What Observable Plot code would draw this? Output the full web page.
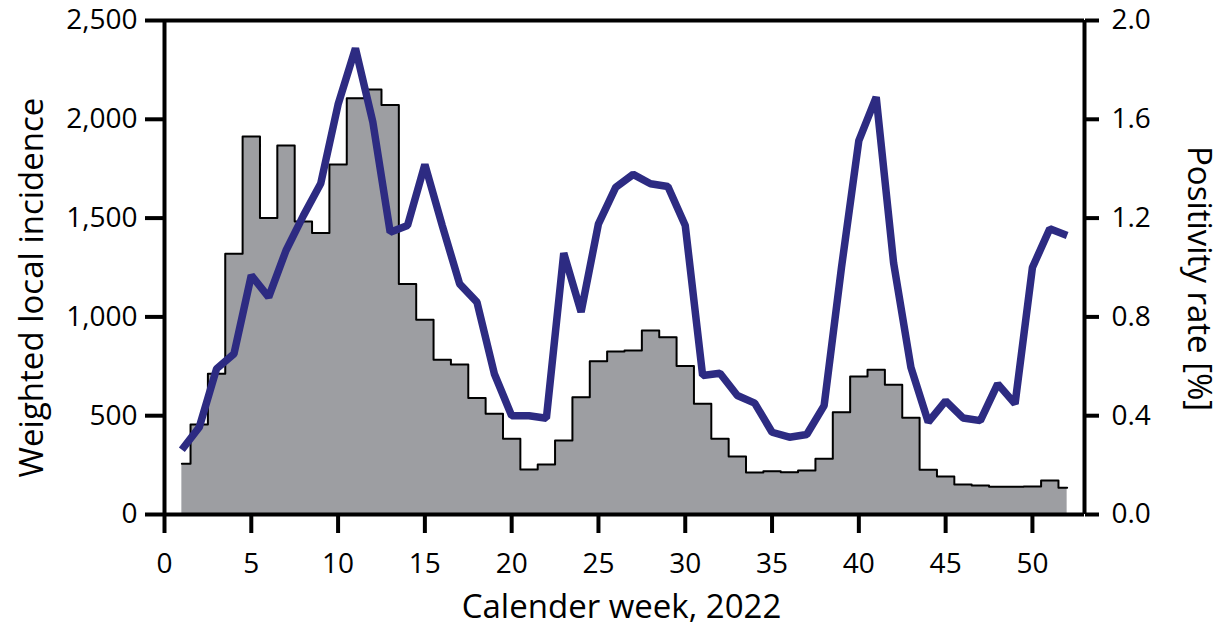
<!DOCTYPE html>
<html>
<head>
<meta charset="utf-8">
<script src="https://cdn.jsdelivr.net/npm/d3@7"></script>
<script src="https://cdn.jsdelivr.net/npm/@observablehq/plot@0.6"></script>
<style>
  html, body { margin: 0; padding: 0; background: #fff; }
  #chart svg { display: block; }
</style>
</head>
<body>
<div id="chart"></div>
<script>
const weeks = [1,2,3,4,5,6,7,8,9,10,11,12,13,14,15,16,17,18,19,20,21,22,23,24,25,26,
  27,28,29,30,31,32,33,34,35,36,37,38,39,40,41,42,43,44,45,46,47,48,49,50,51,52];
const incidence = [257,455,712,1319,1913,1500,1867,1483,1425,1771,2107,2151,2073,1167,985,783,
  759,589,510,383,228,253,374,594,776,825,830,931,897,751,560,383,294,213,219,214,223,282,518,
  698,732,656,489,226,192,152,147,140,140,142,172,135];
const positivity = [0.262,0.353,0.59,0.65,0.968,0.88,1.069,1.21,1.34,1.66,1.887,1.59,1.143,1.17,
  1.417,1.17,0.934,0.86,0.57,0.40,0.40,0.39,1.058,0.82,1.177,1.325,1.377,1.339,1.328,1.17,0.563,
  0.572,0.482,0.451,0.333,0.313,0.324,0.441,1.0,1.514,1.69,1.02,0.596,0.374,0.46,0.391,0.38,
  0.529,0.448,1.0,1.157,1.13];
const leftTicks = [0,500,1000,1500,2000,2500];
const rightTicks = [0.0,0.4,0.8,1.2,1.6,2.0];
const xTicks = [0,5,10,15,20,25,30,35,40,45,50];
const ratio = 2500 / 2.0;

const incData = weeks.map((w, i) => ({week: w, value: incidence[i]}));
const posData = weeks.map((w, i) => ({week: w, value: positivity[i] * ratio}));

const FS = 28;
const TS = 33;
const chart = Plot.plot({
  width: 1223,
  height: 629,
  marginLeft: 164,
  marginRight: 139,
  marginTop: 20,
  marginBottom: 115,
  style: {fontFamily: "'Open Sans', sans-serif", fontSize: FS + "px", color: "#000", background: "#fff"},
  x: {domain: [0, 53]},
  y: {domain: [0, 2500]},
  marks: [
    Plot.areaY(incData, {x: "week", y: "value", curve: "step", fill: "#9d9ea2"}),
    Plot.lineY(incData, {x: "week", y: "value", curve: "step", stroke: "#000", strokeWidth: 2}),
    Plot.lineY(posData, {x: "week", y: "value", stroke: "#2d2b82", strokeWidth: 7.5, strokeLinejoin: "miter", strokeLinecap: "butt"}),
    Plot.ruleX([0, 53], {stroke: "#000", strokeWidth: 4}),
    Plot.ruleY([2500], {stroke: "#000", strokeWidth: 4}),
    Plot.ruleY([0], {stroke: "#000", strokeWidth: 4}),
    Plot.axisY({anchor: "left", ticks: leftTicks, tickFormat: d3.format(","), tickSize: 19, tickPadding: 8,
      strokeWidth: 4, fontSize: FS, label: null, fill: "#000"}),
    Plot.axisY({anchor: "right", ticks: rightTicks.map((v) => v * ratio), tickFormat: (d) => (d / ratio).toFixed(1), tickSize: 14,
      tickPadding: 13, strokeWidth: 4, fontSize: FS, label: null, fill: "#000"}),
    Plot.axisX({ticks: xTicks, tickFormat: d3.format("d"), tickSize: 19, tickPadding: 20,
      strokeWidth: 4, fontSize: FS, label: null, fill: "#000"}),
    Plot.text(["Weighted local incidence"], {frameAnchor: "left", textAnchor: "middle", dx: -132, dy: 20, rotate: -90,
      fontSize: TS, fill: "#000"}),
    Plot.text(["Positivity rate [%]"], {frameAnchor: "right", textAnchor: "middle", dx: 114, dy: 11, rotate: 90,
      fontSize: TS, fill: "#000"}),
    Plot.text(["Calender week, 2022"], {frameAnchor: "bottom", textAnchor: "middle", dx: -3, dy: 103,
      fontSize: TS, fill: "#000"})
  ]
});
document.getElementById("chart").appendChild(chart);
</script>
</body>
</html>
